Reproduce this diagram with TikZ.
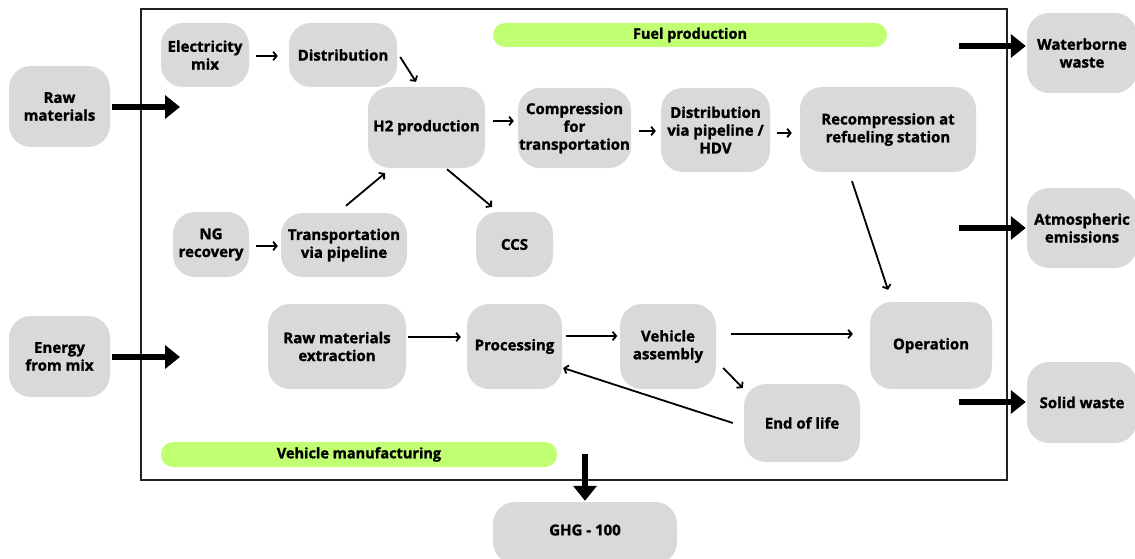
\documentclass[tikz,border=0pt]{standalone}
\usepackage{fontspec}
\setmainfont{Open Sans}[BoldFeatures={FakeBold=1.3}]
\usetikzlibrary{arrows.meta}
\definecolor{boxgray}{HTML}{D9D9D9}
\definecolor{limebar}{HTML}{C1FF72}
\definecolor{framecol}{HTML}{222222}
\tikzset{
  box/.style={fill=boxgray, rounded corners=22pt, align=center, inner sep=0pt,
    font=\bfseries\fontsize{15}{17.8}\selectfont, text=black},
  bar/.style={fill=limebar, rounded corners=12pt, inner sep=0pt,
    font=\bfseries\fontsize{14.5}{16}\selectfont, text=black},
  thin/.style={line width=1.8pt, -{Straight Barb[length=3.5pt,width=8.5pt]}},
  thick/.style={line width=6pt, -{Triangle[length=15pt,width=23pt]}},
}
\begin{document}
\begin{tikzpicture}[x=1pt,y=-1pt]
\useasboundingbox (0,0) rectangle (1135,559);
% frame
\node[draw=framecol, line width=2.2pt, minimum width=866pt, minimum height=471pt, inner sep=0pt] (frame) at (574,244.5) {};
% bars
\node[bar, minimum width=394pt, minimum height=24pt] (fuelbar) at (690,35) {Fuel production};
\node[bar, minimum width=396pt, minimum height=25pt] (vehbar) at (359,454.5) {Vehicle manufacturing};
% outer nodes
\node[box, minimum width=101pt, minimum height=81pt] (raw) at (59.5,106.5) {Raw\\materials};
\node[box, minimum width=101pt, minimum height=81pt] (energy) at (59.5,356.5) {Energy\\from mix};
\node[box, minimum width=110pt, minimum height=80pt] (water) at (1082,53) {Waterborne\\waste};
\node[box, minimum width=110pt, minimum height=80pt] (atm) at (1082,228) {Atmospheric\\emissions};
\node[box, minimum width=110pt, minimum height=81pt] (solid) at (1082,402.5) {Solid waste};
\node[box, minimum width=184pt, minimum height=62pt] (ghg) at (585,533) {};
\node[font=\bfseries\fontsize{15}{17.8}\selectfont] (ghgtext) at (585,530) {GHG - 100};
% fuel production nodes
\node[box, minimum width=88pt, minimum height=64pt] (elec) at (205,55) {Electricity\\mix};
\node[box, minimum width=108pt, minimum height=64pt] (dist) at (343,55) {Distribution};
\node[box, minimum width=117pt, minimum height=81pt] (h2) at (426.5,127.5) {H2 production};
\node[box, minimum width=113pt, minimum height=80pt] (comp) at (574.5,128) {Compression\\for\\transportation};
\node[box, minimum width=109pt, minimum height=84pt] (dvp) at (715.5,130) {Distribution\\via pipeline /\\HDV};
\node[box, minimum width=176pt, minimum height=85pt] (rec) at (888,129.5) {Recompression at\\refueling station};
\node[box, minimum width=76pt, minimum height=65pt] (ng) at (211,244.5) {NG\\recovery};
\node[box, minimum width=126pt, minimum height=64pt] (trans) at (344,245) {Transportation\\via pipeline};
\node[box, minimum width=77pt, minimum height=65pt] (ccs) at (514.5,244.5) {CCS};
% vehicle nodes
\node[box, minimum width=138pt, minimum height=85pt] (rme) at (337,346.5) {Raw materials\\extraction};
\node[box, minimum width=95pt, minimum height=85pt] (proc) at (514.5,346.5) {Processing};
\node[box, minimum width=96pt, minimum height=85pt] (va) at (668,346.5) {Vehicle\\assembly};
\node[box, minimum width=122pt, minimum height=87pt] (op) at (931,345.5) {Operation};
\node[box, minimum width=116pt, minimum height=78pt] (eol) at (802,423) {End of life};
% free ends of the thick arrows
\coordinate (rawin) at (180,107);
\coordinate (enin) at (180,357);
\coordinate (wout) at (959,46);
\coordinate (aout) at (959,228);
\coordinate (sout) at (959,402);
\coordinate (gout) at (585,454);
% thick arrows
\draw[thick] ([shift={(2,0.5)}]raw.east) -- (rawin);
\draw[thick] ([shift={(2,0.5)}]energy.east) -- (enin);
\draw[thick] (wout) -- ([shift={(-1,-7)}]water.west);
\draw[thick] (aout) -- ([shift={(-1,0)}]atm.west);
\draw[thick] (sout) -- ([shift={(-1,-0.5)}]solid.west);
\draw[thick] (gout) -- ([shift={(0,-1)}]ghg.north);
% thin arrows
\draw[thin] ([shift={(7,1)}]elec.east) -- ([shift={(-11,1)}]dist.west);
\draw[thin] ([shift={(3,2)}]dist.east) -- ([shift={(-10.5,-5)}]h2.north);
\draw[thin] ([shift={(8,-6.5)}]h2.east) -- ([shift={(-4,-7)}]comp.west);
\draw[thin] ([shift={(8,3)}]comp.east) -- ([shift={(-5,1)}]dvp.west);
\draw[thin] ([shift={(7,3)}]dvp.east) -- ([shift={(-8,3.5)}]rec.west);
\draw[thin] ([shift={(-36,9)}]rec.south) -- ([shift={(-43,-12)}]op.north);
\draw[thin] ([shift={(2,-7)}]trans.north) -- ([shift={(-41.5,5)}]h2.south);
\draw[thin] ([shift={(20.5,1)}]h2.south) -- ([shift={(-22.5,-5)}]ccs.north);
\draw[thin] ([shift={(7,1.5)}]ng.east) -- ([shift={(-3,1)}]trans.west);
\draw[thin] ([shift={(2,-9.5)}]rme.east) -- ([shift={(-6,-9.5)}]proc.west);
\draw[thin] ([shift={(3.5,-10.5)}]proc.east) -- ([shift={(-2.5,-10.5)}]va.west);
\draw[thin] ([shift={(14.5,-12.5)}]va.east) -- ([shift={(-17,-11.5)}]op.west);
\draw[thin] ([shift={(7,21.5)}]va.east) -- ([shift={(-1,-35)}]eol.west);
\draw[thin] ([shift={(-11,0)}]eol.west) -- ([shift={(1,21.5)}]proc.east);
\end{tikzpicture}
\end{document}
